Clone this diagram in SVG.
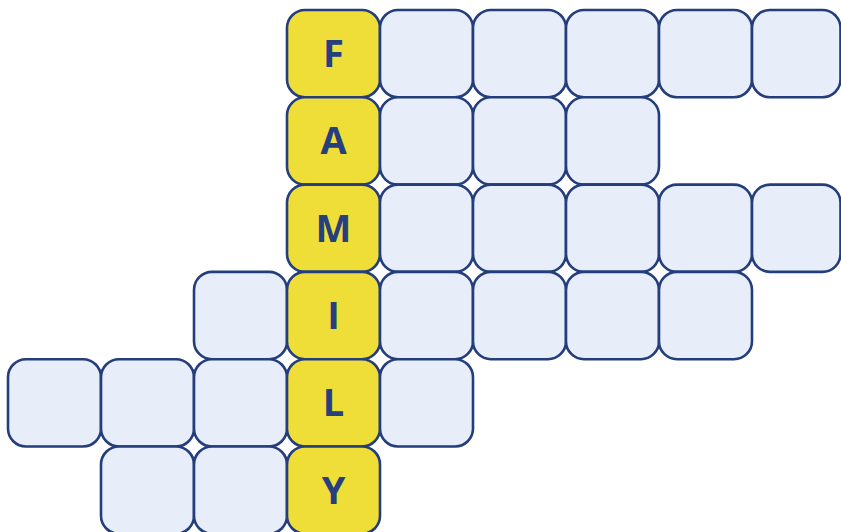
<svg xmlns="http://www.w3.org/2000/svg" width="841" height="532" viewBox="0 0 841 532">
<style>
.c{fill:#e8eef9;stroke:#243d7c;stroke-width:2.6}
.y{fill:#efdd38;stroke:#243d7c;stroke-width:2.6}
.t{font-family:"Open Sans","Noto Sans",sans-serif;font-weight:700;font-size:38px;fill:#263f7f;text-anchor:middle}
</style>
<rect width="841" height="532" fill="#ffffff"/>
<g id="row0">
<g id="r0c3"><rect class="y" x="287" y="10" width="93" height="87.3" rx="18"/><text class="t" x="333.5" y="67">F</text></g>
<g id="r0c4"><rect class="c" x="380" y="10" width="93" height="87.3" rx="18"/></g>
<g id="r0c5"><rect class="c" x="473" y="10" width="93" height="87.3" rx="18"/></g>
<g id="r0c6"><rect class="c" x="566" y="10" width="93" height="87.3" rx="18"/></g>
<g id="r0c7"><rect class="c" x="659" y="10" width="93" height="87.3" rx="18"/></g>
<g id="r0c8"><rect class="c" x="752" y="10" width="88.5" height="87.3" rx="18"/></g>
</g>
<g id="row1">
<g id="r1c3"><rect class="y" x="287" y="97.3" width="93" height="87.3" rx="18"/><text class="t" x="333.5" y="154.3">A</text></g>
<g id="r1c4"><rect class="c" x="380" y="97.3" width="93" height="87.3" rx="18"/></g>
<g id="r1c5"><rect class="c" x="473" y="97.3" width="93" height="87.3" rx="18"/></g>
<g id="r1c6"><rect class="c" x="566" y="97.3" width="93" height="87.3" rx="18"/></g>
</g>
<g id="row2">
<g id="r2c3"><rect class="y" x="287" y="184.6" width="93" height="87.3" rx="18"/><text class="t" x="333.5" y="241.6">M</text></g>
<g id="r2c4"><rect class="c" x="380" y="184.6" width="93" height="87.3" rx="18"/></g>
<g id="r2c5"><rect class="c" x="473" y="184.6" width="93" height="87.3" rx="18"/></g>
<g id="r2c6"><rect class="c" x="566" y="184.6" width="93" height="87.3" rx="18"/></g>
<g id="r2c7"><rect class="c" x="659" y="184.6" width="93" height="87.3" rx="18"/></g>
<g id="r2c8"><rect class="c" x="752" y="184.6" width="88.5" height="87.3" rx="18"/></g>
</g>
<g id="row3">
<g id="r3c2"><rect class="c" x="194" y="271.9" width="93" height="87.3" rx="18"/></g>
<g id="r3c3"><rect class="y" x="287" y="271.9" width="93" height="87.3" rx="18"/><text class="t" x="333.5" y="328.9">I</text></g>
<g id="r3c4"><rect class="c" x="380" y="271.9" width="93" height="87.3" rx="18"/></g>
<g id="r3c5"><rect class="c" x="473" y="271.9" width="93" height="87.3" rx="18"/></g>
<g id="r3c6"><rect class="c" x="566" y="271.9" width="93" height="87.3" rx="18"/></g>
<g id="r3c7"><rect class="c" x="659" y="271.9" width="93" height="87.3" rx="18"/></g>
</g>
<g id="row4">
<g id="r4c0"><rect class="c" x="8" y="359.2" width="93" height="87.3" rx="18"/></g>
<g id="r4c1"><rect class="c" x="101" y="359.2" width="93" height="87.3" rx="18"/></g>
<g id="r4c2"><rect class="c" x="194" y="359.2" width="93" height="87.3" rx="18"/></g>
<g id="r4c3"><rect class="y" x="287" y="359.2" width="93" height="87.3" rx="18"/><text class="t" x="333.5" y="416.2">L</text></g>
<g id="r4c4"><rect class="c" x="380" y="359.2" width="93" height="87.3" rx="18"/></g>
</g>
<g id="row5">
<g id="r5c1"><rect class="c" x="101" y="446.5" width="93" height="87.3" rx="18"/></g>
<g id="r5c2"><rect class="c" x="194" y="446.5" width="93" height="87.3" rx="18"/></g>
<g id="r5c3"><rect class="y" x="287" y="446.5" width="93" height="87.3" rx="18"/><text class="t" x="333.5" y="503.5">Y</text></g>
</g>
<g id="connectors"/>
</svg>
